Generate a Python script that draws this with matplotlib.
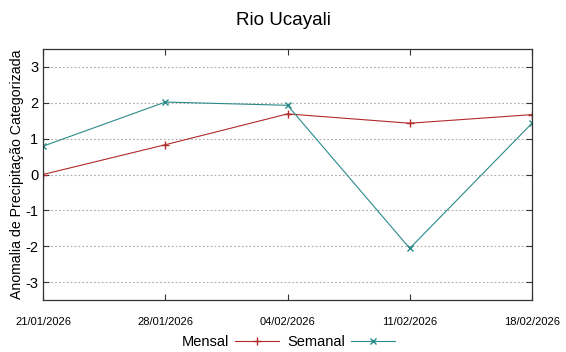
import matplotlib.pyplot as plt
import numpy as np

plt.rcParams['font.family'] = ['Liberation Sans', 'DejaVu Sans']
plt.rcParams['axes.unicode_minus'] = False

datas = ["21/01/2026", "28/01/2026", "04/02/2026", "11/02/2026", "18/02/2026"]
mensal = [0.0, 0.83, 1.69, 1.43, 1.67]
semanal = [0.79, 2.02, 1.93, -2.06, 1.43]

x = np.arange(len(datas))

fig = plt.figure(figsize=(5.66, 3.52), dpi=100)
ax = fig.add_axes([43 / 566, 52 / 352, 489 / 566, 251 / 352])

ax.plot(x, mensal, c='#b22a2a', lw=0.8, marker='+', ms=6, mew=1.0, label="Mensal")
ax.plot(x, semanal, c='#2a8a8a', lw=0.8, marker='x', ms=5, mew=1.0, label="Semanal")

ax.set_xlim(0, len(datas) - 1)
ax.set_ylim(-3.5, 3.5)
ax.set_xticks(x)
ax.set_xticklabels(datas, fontsize=8)
ax.set_yticks(range(-3, 4))
ax.tick_params(axis='y', labelsize=10.5)
ax.tick_params(direction='in', top=True, right=True, length=4, width=0.8, color='#333333')
ax.tick_params(axis='x', pad=12)

for s in ax.spines.values():
    s.set_color('#333333')
    s.set_linewidth(0.9)

ax.yaxis.grid(True, ls=(0, (1.5, 2)), lw=0.8, color='#aaaaaa')
ax.set_axisbelow(True)

ax.set_ylabel("Anomalia de Precipitação Categorizada", fontsize=10.2, labelpad=1)
fig.suptitle("Rio Ucayali", fontsize=13.5, y=0.965)

fig.legend(loc='lower center', ncol=2, frameon=False, fontsize=10.5,
           markerfirst=False, handlelength=3, columnspacing=0.6,
           handletextpad=0.4, bbox_to_anchor=(0.51, -0.03))

fig.savefig("out.png", dpi=100)
